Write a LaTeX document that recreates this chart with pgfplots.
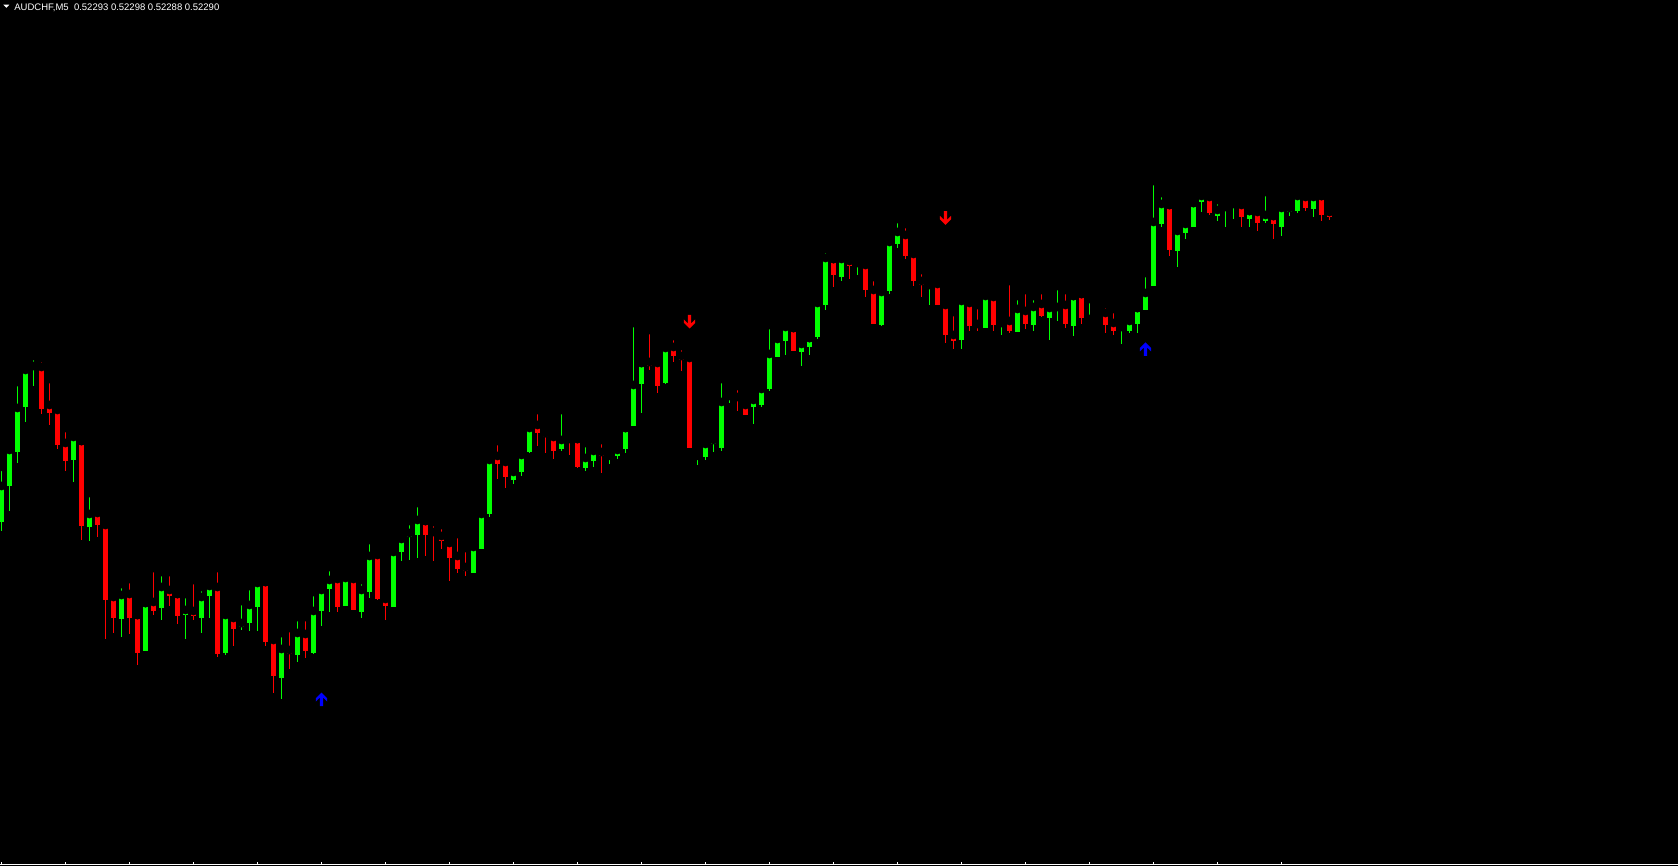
\documentclass[border=0pt]{standalone}
\usepackage{pgfplots}
\pgfplotsset{compat=1.18}
\usepackage{pgfplotstable}
\usepackage{fontspec}
\setmainfont{Liberation Sans}
\definecolor{cgreen}{RGB}{0,255,0}
\definecolor{cred}{RGB}{255,0,0}
\definecolor{cblue}{RGB}{0,0,255}

% candles: i = bar index, o h l c = open high low close (chart pixel rows, smaller = higher price)
\pgfplotstableread{
i o h l c
0 521.7 466.7 530.7 486
1 485.7 445 510.7 450
2 451.7 382 462.7 408
3 406.7 366 421.7 370
4 367.7 356 385.7 366
9 459.7 432 481.7 437
11 526.7 493 540.7 514
15 618.7 584 636.7 595
18 650.7 603 650.7 603
20 607.7 572 619.7 587
23 615 594 638.7 610
25 617.7 587 632.7 597
26 595.7 584 617.7 586
28 652.7 610 654.7 615
30 626.7 601 629.7 623
31 622.7 586 630.7 605
32 606.7 575 630.7 583
35 677.7 633 698.7 649
37 654.7 617 661.7 633
39 652.7 592 653.7 611
40 610.7 586 625.7 590
41 588.7 567 611.7 580
43 605.7 571 605.7 578
45 611.7 580 617.7 590
46 591.7 540 597.7 556
49 606.7 551 606.7 552
50 551.7 532 560.7 539
51 536.7 521 559.7 533
52 534.7 503 557.7 520
59 572.7 545 572.7 547
60 548.7 513 548.7 514
61 513.7 455 516.7 460
64 479.7 468 483.7 472
65 471.7 448 475.7 455
66 451.7 424 452.7 428
70 448.7 410 450.7 440
73 467.7 443 470.7 458
74 460.7 450 466.7 451
76 456.3 451 463.7 455.7
77 455.7 445 458.7 450
78 448.7 428 452.7 428
79 425.7 323 425.7 385
80 383.7 363 412.7 363
83 382.7 343 383.7 348
87 456 448 464.7 455.7
88 456.7 441 459.7 444
89 443.7 436 451.7 440
90 447.7 379 450.7 402
91 399 388 403 396
94 407 398 424 400
95 405 383 407 389
96 389 325 391 354
97 357 335 357 339
98 341 325 355 327
100 352 343 366 344
101 347 338 355 338
102 337 299 339 303
103 305 249 310 258
105 277 255 281 259
107 263.3 258 275 263
110 325 286 326 292
111 291 236 294 242
112 244 219 248 232
116 285.3 284 305 285
120 340 297 349 301
123 328 288 328 296
125 323.5 317 335 323
127 332 296 332 309
129 325 296 331 307
131 318 301 340 308
132 310 286 321 307
134 326 296 336 296
136 319.3 299 322 319
137 318 309 318 315
140 329 325 344 327
141 331 319 333 321
142 324 308 333 308
143 310 273 310 293
144 286 181 286 222
145 224 193 227 204
147 251 226 267 231
148 233 220 239 224
149 227 203 227 203
150 202 191 212 196
152 216 200 221 210
153 209 201 227 207
154 206 196 219 204
156 219 211 227 211
158 221 192 223 215
160 227 205 236 208
161 212 201 216 208
162 211 195 213 196
164 209 195 217 197
}\bull

\pgfplotstableread{
i o h l c
5 367 358 413.7 408.7
6 405 379 424.7 412.7
7 410 408.3 448.7 444.7
8 443 428 470.7 460.7
10 441 441 539.7 525.7
12 513 508 536.7 524.7
13 525 524 638.7 599.7
14 597 590 632.7 617.7
16 594 579 633.7 617.7
17 615 615 664.7 652.7
19 602 568 615 611
21 590 572 605.7 595.7
22 594 594 623.7 615.7
24 611 580 619.7 615.7
27 587 568 656.7 653.7
29 618 615 645.7 628.7
33 582 582 645.7 641.7
34 640 638 692.7 675.7
36 650 628 668.7 653.7
38 634 617 657.7 650.7
42 579 571 611.7 606.7
44 579 571 609.7 609.7
47 555 549 599.7 598.7
48 599 591 619.7 605.7
53 521 521 555.7 534.7
54 532 522 560.7 534.7
55 536 525 548.7 540.7
56 543 541 580.7 557.7
57 556 534 572.7 568.7
58 567 548 575.7 570.7
62 456 441 478.7 463.7
63 462 455 487.7 476.7
67 425 410 445.7 432.7
68 433 433 452.7 436.7
69 437 432 458.7 450.7
71 439 437 454.7 440.7
72 439 439 467.7 466.7
75 452 440 472.7 455.7
81 362 330 369.7 365.7
82 363 356 392.7 385.7
84 347 336 361.7 355.7
85 356 346 370.7 359.7
86 358 356 447.7 447.7
92 397 386 411 399
93 405 397 415 415
99 328 328 351 351
104 259 259 287 275
106 261 254 279 266
108 265 262 297 290
109 290 277 324 324
113 235 224 259 256
114 254 253 286 281
115 281 270 297 285
117 284 280 305 305
118 305 303 343 335
119 335 312 349 341
121 303 301 331 326
122 324 305 331 326
124 297 296 331 325
126 321 281 333 331
128 311 290 329 324
130 304 290 317 316
133 305 290 328 324
135 294 294 324 318
138 313 304 333 325
139 323 309 335 331
146 205 205 256 250
151 197 196 215 213
155 205 204 227 217
157 212 210 231 223
159 216 216 239 224
163 197 196 211 208
165 196 196 221 215
166 212 205 220 217
}\bear

\pgfplotstableread{
i y
40 699.3
143 349.2
}\buyarrows

\pgfplotstableread{
i y
86 321.7
118 218
}\sellarrows

\pgfdeclareplotmark{uparrow}{%
  \pgfpathmoveto{\pgfpoint{0pt}{3.4pt}}%
  \pgfpathlineto{\pgfpoint{2.8pt}{0.6pt}}%
  \pgfpathlineto{\pgfpoint{2.8pt}{-1.1pt}}%
  \pgfpathlineto{\pgfpoint{0.8pt}{0.9pt}}%
  \pgfpathlineto{\pgfpoint{0.8pt}{-3.4pt}}%
  \pgfpathlineto{\pgfpoint{-0.8pt}{-3.4pt}}%
  \pgfpathlineto{\pgfpoint{-0.8pt}{0.9pt}}%
  \pgfpathlineto{\pgfpoint{-2.8pt}{-1.1pt}}%
  \pgfpathlineto{\pgfpoint{-2.8pt}{0.6pt}}%
  \pgfpathclose
  \pgfusepathqfill}
\pgfdeclareplotmark{downarrow}{%
  \pgfpathmoveto{\pgfpoint{0pt}{-3.4pt}}%
  \pgfpathlineto{\pgfpoint{2.8pt}{-0.6pt}}%
  \pgfpathlineto{\pgfpoint{2.8pt}{1.1pt}}%
  \pgfpathlineto{\pgfpoint{0.8pt}{-0.9pt}}%
  \pgfpathlineto{\pgfpoint{0.8pt}{3.4pt}}%
  \pgfpathlineto{\pgfpoint{-0.8pt}{3.4pt}}%
  \pgfpathlineto{\pgfpoint{-0.8pt}{-0.9pt}}%
  \pgfpathlineto{\pgfpoint{-2.8pt}{1.1pt}}%
  \pgfpathlineto{\pgfpoint{-2.8pt}{-0.6pt}}%
  \pgfpathclose
  \pgfusepathqfill}

\begin{document}
\begin{tikzpicture}
\useasboundingbox (0,0) rectangle (839pt,433pt);
\fill[black] (0,0) rectangle (839pt,433pt);
\begin{axis}[
  at={(0,0.75pt)}, anchor=south west,
  scale only axis, width=839pt, height=432.25pt,
  xmin=-0.1875, xmax=209.5625, ymin=0, ymax=864.5, y dir=reverse,
  axis x line*=bottom, axis y line=none,
  axis line style={white, line width=0.5pt, -},
  xtick={0,8,...,160}, xticklabels={},
  tick align=inside, major tick length=1.5pt,
  tick style={white, line width=0.5pt},
  ytick=\empty,
  clip=true,
]
% wicks
\addplot[only marks, mark=none, forget plot,
  error bars/.cd, y dir=plus, y explicit, error mark=none,
  error bar style={line width=0.5pt, draw=cgreen}]
  table[x=i, y=h, y error plus expr={\thisrow{l}-\thisrow{h}}] {\bull};
\addplot[only marks, mark=none, forget plot,
  error bars/.cd, y dir=plus, y explicit, error mark=none,
  error bar style={line width=0.5pt, draw=cred}]
  table[x=i, y=h, y error plus expr={\thisrow{l}-\thisrow{h}}] {\bear};
% bodies
\addplot[only marks, mark=none, forget plot,
  error bars/.cd, y dir=plus, y explicit, error mark=none,
  error bar style={line width=2.5pt, draw=cgreen}]
  table[x=i, y expr={min(\thisrow{o},\thisrow{c})},
        y error plus expr={max(abs(\thisrow{c}-\thisrow{o}),1)}] {\bull};
\addplot[only marks, mark=none, forget plot,
  error bars/.cd, y dir=plus, y explicit, error mark=none,
  error bar style={line width=2.5pt, draw=cred}]
  table[x=i, y expr={min(\thisrow{o},\thisrow{c})},
        y error plus expr={max(abs(\thisrow{c}-\thisrow{o}),1)}] {\bear};
% signal arrows
\addplot[only marks, mark=uparrow, mark options={fill=cblue, draw=none}] table[x=i, y=y] {\buyarrows};
\addplot[only marks, mark=downarrow, mark options={fill=cred, draw=none}] table[x=i, y=y] {\sellarrows};
\end{axis}
\fill[white] (1.65pt,430.65pt) -- (4.65pt,430.65pt) -- (3.15pt,429.1pt) -- cycle;
\node[anchor=base west, inner sep=0pt, text=white, font=\fontsize{4.75pt}{5pt}\selectfont]
  at (7pt,427.65pt) {AUDCHF,M5\ \ 0.52293 0.52298 0.52288 0.52290};
\end{tikzpicture}
\end{document}
